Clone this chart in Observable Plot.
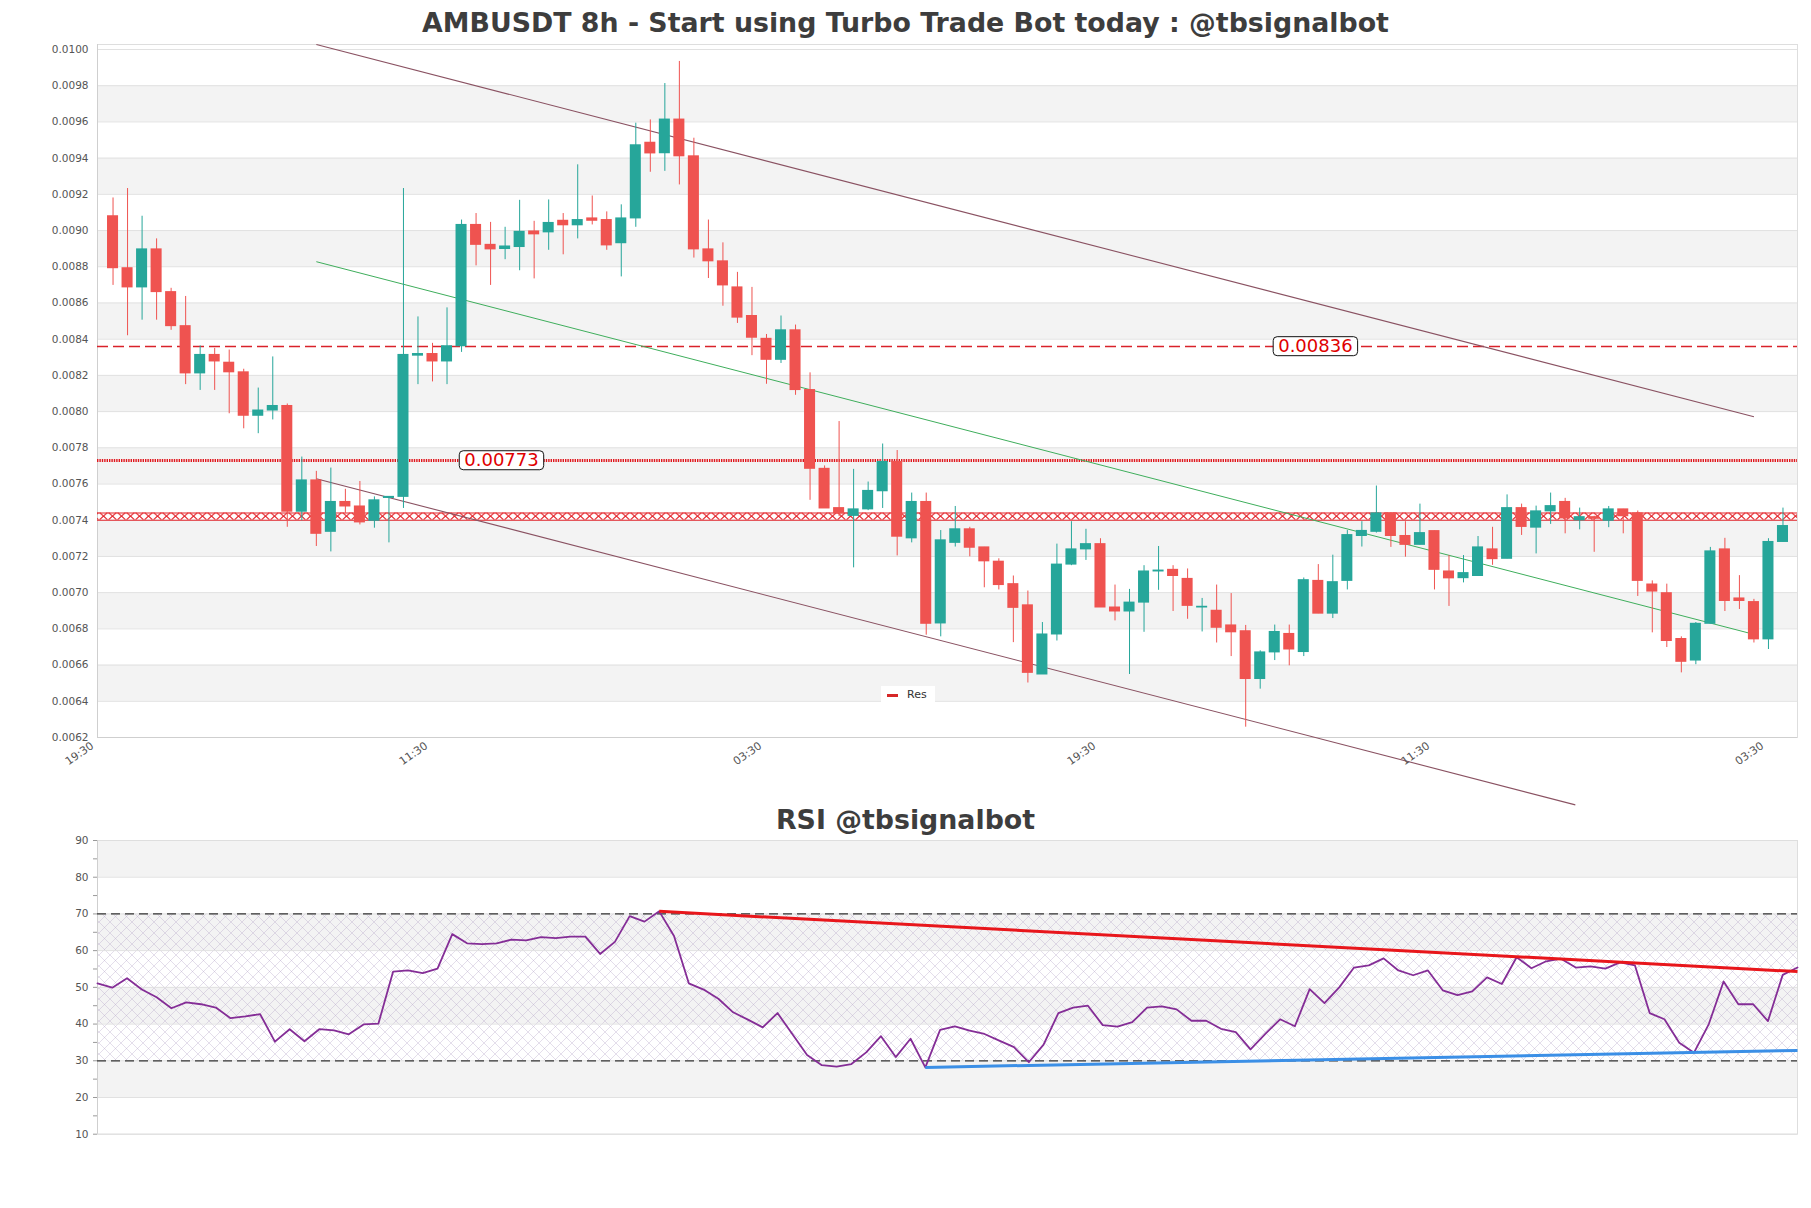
<!DOCTYPE html>
<html><head><meta charset="utf-8">
<script src="https://cdn.jsdelivr.net/npm/d3@7"></script>
<script src="https://cdn.jsdelivr.net/npm/@observablehq/plot@0.6"></script>
<style>
body{margin:0;background:#fff;}
#wrap{position:relative;width:1811px;height:1208px;overflow:hidden;font-family:"DejaVu Sans",sans-serif;background:#fff;}
.ttl{position:absolute;left:0;width:1811px;text-align:center;font-weight:bold;color:#3d3d3d;font-size:26.8px;line-height:26px;white-space:nowrap;}
.chart{position:absolute;left:0;}
#legend{position:absolute;left:881px;top:686px;width:54px;height:17px;background:#fff;font-size:11px;color:#333;}
#legend .sw{position:absolute;left:6px;top:8px;width:11px;height:3px;background:#d62728;}
#legend .tx{position:absolute;left:26px;top:0;line-height:17px;}
</style></head>
<body><div id="wrap">
<div class="ttl" style="top:10px">AMBUSDT 8h - Start using Turbo Trade Bot today : @tbsignalbot</div>
<div class="ttl" style="top:807px">RSI @tbsignalbot</div>
</div>
<script>
// ---------- data ----------
const opens = [
0.009079,0.008792,0.008686,0.008896,0.00866,0.008472,0.008211,0.008313,0.00827,0.008217,
0.007977,0.008006,0.008031,0.007447,0.00762,0.007336,0.007501,0.007476,0.007397,0.007523,
0.007529,0.008309,0.008318,0.008277,0.008361,0.009031,0.008921,0.008898,0.008909,0.008995,
0.00899,0.009054,0.009029,0.009067,0.009058,0.00893,0.009067,0.009485,0.009427,0.009613,
0.00941,0.008896,0.00883,0.008686,0.008528,0.008402,0.008286,0.008449,0.008119,0.007684,
0.007467,0.007424,0.00746,0.00756,0.007722,0.0073,0.007501,0.00683,0.007275,0.00735,
0.00725,0.007171,0.007047,0.00693,0.006548,0.006769,0.007155,0.007239,0.007268,0.006918,
0.006896,0.006945,0.007117,0.007126,0.007076,0.006918,0.0069,0.006819,0.006787,0.006523,
0.00667,0.006772,0.006672,0.007065,0.006884,0.007065,0.007313,0.007336,0.007438,0.007313,
0.007264,0.00734,0.007117,0.00708,0.007092,0.007239,0.007187,0.007467,0.007359,0.007449,
0.007501,0.007399,0.007417,0.007397,0.00746,0.007438,0.007045,0.006997,0.006744,0.006625,
0.006828,0.007239,0.006968,0.006948,0.006742,0.00728];
const highs = [
0.00918,0.009232,0.009079,0.008954,0.008681,0.008636,0.008363,0.008349,0.00834,0.008234,
0.00813,0.008302,0.008042,0.007749,0.00767,0.007688,0.007571,0.007614,0.007529,0.007529,
0.009232,0.008523,0.008377,0.008573,0.009058,0.009094,0.009045,0.009018,0.009167,0.009051,
0.009169,0.009094,0.009363,0.009191,0.009103,0.009142,0.009593,0.009611,0.009812,0.009934,
0.00951,0.009058,0.008932,0.008769,0.008686,0.008426,0.008528,0.008478,0.008214,0.0077,
0.007945,0.007681,0.007611,0.007821,0.007785,0.00755,0.00755,0.007343,0.007476,0.007361,
0.00725,0.007187,0.007092,0.007009,0.006835,0.007268,0.007392,0.00735,0.007298,0.007042,
0.007018,0.007149,0.007255,0.007149,0.007131,0.006968,0.007042,0.006995,0.006819,0.006679,
0.006821,0.006821,0.007081,0.007155,0.007207,0.007343,0.007392,0.007589,0.007442,0.007392,
0.007489,0.00734,0.007205,0.007205,0.00731,0.007361,0.00754,0.007489,0.007478,0.00755,
0.007521,0.007467,0.007422,0.007476,0.00746,0.007451,0.007065,0.007047,0.006756,0.006835,
0.00725,0.0073,0.007094,0.006963,0.007298,0.007467];
const lows = [
0.008697,0.008419,0.008505,0.008505,0.008449,0.008149,0.008117,0.008117,0.007988,0.007905,
0.007878,0.007954,0.007361,0.007397,0.007255,0.007225,0.007438,0.007374,0.007356,0.007275,
0.007465,0.008149,0.008164,0.008149,0.008327,0.008805,0.008697,0.008839,0.008778,0.008733,
0.008891,0.008866,0.008954,0.009031,0.008891,0.008744,0.009018,0.009322,0.009327,0.009252,
0.008848,0.008735,0.008582,0.008487,0.008309,0.008151,0.008266,0.00809,0.00751,0.007465,
0.00742,0.007137,0.007453,0.007465,0.007203,0.007275,0.006765,0.006756,0.007252,0.007198,
0.007027,0.007015,0.006724,0.006501,0.006548,0.006733,0.007149,0.007178,0.006918,0.006844,
0.006548,0.006781,0.007013,0.006896,0.006853,0.006783,0.006722,0.006647,0.006257,0.006467,
0.006625,0.006596,0.006647,0.006884,0.006857,0.007015,0.007252,0.007329,0.00725,0.007196,
0.007264,0.007015,0.006924,0.007054,0.007092,0.007151,0.007187,0.007316,0.007214,0.007377,
0.007325,0.007347,0.007223,0.007359,0.007325,0.006979,0.006778,0.006697,0.006557,0.006602,
0.006828,0.006896,0.006907,0.006722,0.006686,0.00728];
const closes = [
0.008792,0.008686,0.008896,0.00866,0.008472,0.008211,0.008313,0.008277,0.008217,0.007977,
0.008006,0.008031,0.007447,0.00762,0.007325,0.007501,0.007476,0.007388,0.00751,0.007529,
0.008313,0.008318,0.008277,0.008361,0.009031,0.008921,0.008896,0.008912,0.008993,0.008979,
0.009042,0.009029,0.009058,0.009054,0.008918,0.009067,0.009471,0.009426,0.009613,0.00941,
0.008896,0.00883,0.008697,0.008519,0.008408,0.008286,0.008449,0.008119,0.007684,0.007465,
0.007438,0.00746,0.007562,0.007722,0.007309,0.007501,0.006828,0.007289,0.00735,0.007248,
0.007173,0.007042,0.006916,0.006557,0.006769,0.007155,0.007239,0.007268,0.006918,0.006896,
0.006945,0.007117,0.007122,0.007092,0.006927,0.006922,0.006806,0.006781,0.006523,0.00667,
0.006783,0.006686,0.007069,0.006884,0.007058,0.007318,0.007341,0.007438,0.007313,0.007264,
0.007329,0.007126,0.007079,0.007108,0.00725,0.007185,0.007467,0.007363,0.007449,0.007478,
0.00741,0.007417,0.007408,0.00746,0.007422,0.007065,0.007006,0.006733,0.006618,0.006828,
0.007228,0.006954,0.006954,0.006742,0.00728,0.007368];

const rsiValues = [
51.1,49.9,52.5,49.4,47.3,44.3,45.9,45.4,44.5,41.6,
42.1,42.7,35.2,38.6,35.3,38.6,38.3,37.2,39.9,40.1,
54.3,54.6,53.9,55.1,64.5,62.0,61.8,62.0,63.0,62.8,
63.7,63.4,63.8,63.8,59.1,62.4,69.4,67.9,70.7,64.0,
51.1,49.4,46.9,43.2,41.2,39.1,43.0,37.3,31.6,28.8,
28.4,29.1,32.3,36.7,31.0,36.0,28.2,38.4,39.4,38.2,
37.3,35.5,33.7,29.6,34.4,43.0,44.5,45.0,39.7,39.3,
40.5,44.5,44.8,44.0,40.9,40.9,38.7,37.8,33.1,37.3,
41.3,39.4,49.5,45.7,50.0,55.4,56.0,57.9,54.6,53.3,
54.6,49.2,47.9,48.9,52.7,50.9,58.2,55.2,57.1,57.8,
55.4,55.7,55.1,56.8,56.0,43.0,41.3,34.9,32.2,40.0,
51.6,45.4,45.4,40.8,53.4,55.4];

// price axis ticks and x tick labels
const priceTicks = [0.0062,0.0064,0.0066,0.0068,0.0070,0.0072,0.0074,0.0076,0.0078,0.0080,
  0.0082,0.0084,0.0086,0.0088,0.0090,0.0092,0.0094,0.0096,0.0098,0.0100];
const xTickIdx = [-1, 22, 45, 68, 91, 114];
const xTickLabels = ["19:30","11:30","03:30","19:30","11:30","03:30"];
const rsiTicks = [10,20,30,40,50,60,70,80,90];
const rsiMinorTicks = [10,15,20,25,30,35,40,45,50,55,60,65,70,75,80,85,90];

// horizontal levels
const levelValues = [0.00836, 0.00773];
const levelLabelIdx = [82.8, 26.75];
const zoneLow = 0.0074, zoneHigh = 0.00744;

// channel lines (start index, start price, end index, end price)
const chanNames = ["upper","lower","mid"];
const chanX1 = [14, 14, 14];
const chanY1 = [0.010028, 0.007629, 0.008828];
const chanX2 = [113, 100.7, 112.6];
const chanY2 = [0.007972, 0.005828, 0.006778];

// RSI trend lines
const rsiTrendNames = ["res","sup"];
const rsiTrendX1 = [38, 56];
const rsiTrendY1 = [70.7, 28.2];
const rsiTrendX2 = [115, 115];
const rsiTrendY2 = [54.3, 32.8];
const rsiBandLow = 30, rsiBandHigh = 70;

// ---------- build ----------
const GREEN = "#26a69a", RED = "#ef5350";
const candles = opens.map((o,i)=>({i, o, h: highs[i], l: lows[i], c: closes[i]}));
const ups = candles.filter(d => d.c >= d.o);
const downs = candles.filter(d => d.c < d.o);
const bandsOf = t => t.slice(0,-1).map((v,k)=>({k, y1: v, y2: t[k+1]})).filter(d => d.k % 2 === 1);
const chans = chanNames.map((n,k)=>({n, x1: chanX1[k], y1: chanY1[k], x2: chanX2[k], y2: chanY2[k]}));
const fmtLevel = v => v.toFixed(5);
const levels = levelValues.map((v,k)=>({v, xi: levelLabelIdx[k]}));
const lab = new Map(xTickIdx.map((d,k)=>[d, xTickLabels[k]]));
const half = 0.38;

const wrap = document.getElementById("wrap");

const main = Plot.plot({
  width: 1811, height: 810,
  marginLeft: 97, marginRight: 14, marginTop: 44, marginBottom: 73,
  x: {domain: [-1.07, 116], axis: null},
  y: {domain: [0.0062, 0.0100276], axis: null},
  style: {background: "transparent", overflow: "visible", fontFamily: "DejaVu Sans"},
  marks: [
    Plot.rect(bandsOf(priceTicks), {y1: "y1", y2: "y2", fill: "#f3f3f3"}),
    Plot.ruleY(priceTicks, {stroke: "#e1e1e1"}),
    Plot.frame({stroke: "#dedede"}),
    Plot.ruleX([-1.07], {stroke: "#cfcfcf"}),
    Plot.ruleY([0.0062], {stroke: "#cfcfcf"}),
    // levels
    Plot.rect([{y1: zoneLow, y2: zoneHigh}], {y1: "y1", y2: "y2", fill: "url(#xxzone)"}),
    Plot.ruleY([zoneLow, zoneHigh], {stroke: "#e3262c", strokeWidth: 1.2}),
    Plot.ruleY([levelValues[0]], {stroke: "#d9222a", strokeWidth: 1.5, strokeDasharray: "11,5"}),
    Plot.ruleY([levelValues[1]], {stroke: "#e0161c", strokeWidth: 3, strokeDasharray: "1.4,1"}),
    // channel lines
    Plot.link(chans.filter(d => d.n !== "mid"), {x1: "x1", y1: "y1", x2: "x2", y2: "y2", stroke: "#8a5262", strokeWidth: 1.1}),
    Plot.link(chans.filter(d => d.n === "mid"), {x1: "x1", y1: "y1", x2: "x2", y2: "y2", stroke: "#3fae5c", strokeWidth: 1}),
    // candles
    Plot.ruleX(ups, {x: "i", y1: "l", y2: "h", stroke: GREEN, strokeWidth: 1}),
    Plot.ruleX(downs, {x: "i", y1: "l", y2: "h", stroke: RED, strokeWidth: 1}),
    Plot.rect(ups, {x1: d => d.i - half, x2: d => d.i + half, y1: "o", y2: "c", fill: GREEN, insetTop: -0.5, insetBottom: -0.5}),
    Plot.rect(downs, {x1: d => d.i - half, x2: d => d.i + half, y1: "o", y2: "c", fill: RED, insetTop: -0.5, insetBottom: -0.5}),
    // level labels
    Plot.text(levels, {x: "xi", y: "v", text: d => fmtLevel(d.v), fill: "#e00000", fontSize: 18, fontFamily: "DejaVu Sans"}),
    // axes
    Plot.axisY(priceTicks, {tickSize: 0, tickPadding: 9, tickFormat: d3.format(".4f"), fontSize: 10.5, fill: "#555", label: null}),
    Plot.axisX(xTickIdx, {tickSize: 0, tickPadding: 7, dx: -6, tickRotate: -35, tickFormat: d => lab.get(d), fontSize: 11, fill: "#555", label: null})
  ]
});
main.classList.add("chart");
main.style.top = "0px";
wrap.appendChild(main);

const rsiData = rsiValues.map((v,k)=>({k, v}));
const rsiTr = rsiTrendNames.map((n,k)=>({n, x1: rsiTrendX1[k], y1: rsiTrendY1[k], x2: rsiTrendX2[k], y2: rsiTrendY2[k]}));
const rsi = Plot.plot({
  width: 1811, height: 370,
  marginLeft: 97, marginRight: 14, marginTop: 50, marginBottom: 26.3,
  x: {domain: [0, rsiValues.length - 1], axis: null},
  y: {domain: [10, 90], axis: null},
  style: {background: "transparent", overflow: "visible", fontFamily: "DejaVu Sans"},
  marks: [
    Plot.rect(bandsOf(rsiTicks), {y1: "y1", y2: "y2", fill: "#f3f3f3"}),
    Plot.rect([{y1: rsiBandLow, y2: rsiBandHigh}], {y1: "y1", y2: "y2", fill: "url(#rsihatch)"}),
    Plot.ruleY(rsiTicks, {stroke: "#e1e1e1"}),
    Plot.frame({stroke: "#dedede"}),
    Plot.ruleX([0], {stroke: "#cfcfcf"}),
    Plot.ruleY([rsiBandHigh, rsiBandLow], {stroke: "#333", strokeWidth: 1.2, strokeDasharray: "9,5"}),
    Plot.line(rsiData, {x: "k", y: "v", stroke: "#842d96", strokeWidth: 1.8}),
    Plot.link(rsiTr.filter(d => d.n === "res"), {x1: "x1", y1: "y1", x2: "x2", y2: "y2", stroke: "#e8161b", strokeWidth: 3}),
    Plot.link(rsiTr.filter(d => d.n === "sup"), {x1: "x1", y1: "y1", x2: "x2", y2: "y2", stroke: "#3b8fe6", strokeWidth: 3}),
    Plot.axisY(rsiMinorTicks, {tickSize: 4, tickPadding: 5, stroke: "#999", tickFormat: d => d % 10 === 0 ? d : "", fontSize: 10.5, fill: "#555", label: null})
  ]
});
rsi.classList.add("chart");
rsi.style.top = "790px";
wrap.appendChild(rsi);

// patterns
{
  const ys = main.scale("y");
  const top = ys.apply(zoneHigh), bot = ys.apply(zoneLow), h = bot - top, w = 9;
  const defs = d3.select(main).insert("defs", ":first-child");
  const p = defs.append("pattern").attr("id", "xxzone").attr("patternUnits", "userSpaceOnUse")
    .attr("x", 0).attr("y", top).attr("width", w).attr("height", h);
  p.append("path").attr("d", `M0.5,0L${w-0.5},${h}M${w-0.5},0L0.5,${h}`).attr("stroke", "#e3262c").attr("stroke-width", 1.1).attr("fill", "none");
}
{
  const defs = d3.select(rsi).insert("defs", ":first-child");
  const s = 11;
  const p = defs.append("pattern").attr("id", "rsihatch").attr("patternUnits", "userSpaceOnUse")
    .attr("width", s).attr("height", s);
  p.append("path").attr("d", `M0,0L${s},${s}M${s},0L0,${s}`).attr("stroke", "#b3a3c8").attr("stroke-width", 0.6).attr("stroke-opacity", 0.6).attr("fill", "none");
}
// label boxes
const levelStrings = levelValues.map(fmtLevel);
d3.select(main).selectAll("text").filter(function(){ return levelStrings.includes(this.textContent.trim()); }).each(function(){
  const b = this.getBBox();
  const cy = b.y + b.height / 2 + 0.5;
  const r = d3.select(this.parentNode).insert("rect", () => this)
    .attr("x", b.x - 5).attr("y", cy - 9.5).attr("width", b.width + 10).attr("height", 19)
    .attr("rx", 4).attr("fill", "#fff").attr("stroke", "#111").attr("stroke-width", 1);
  const t = this.getAttribute("transform");
  if (t) r.attr("transform", t);
});

// legend
const lg = document.createElement("div");
lg.id = "legend";
lg.innerHTML = '<div class="sw"></div><div class="tx">Res</div>';
wrap.appendChild(lg);
</script>
</body></html>
